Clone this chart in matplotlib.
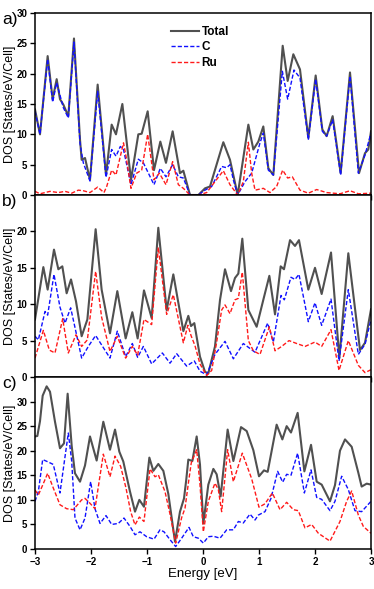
import matplotlib
matplotlib.use("Agg")
import matplotlib.pyplot as plt

plt.rcParams['font.family'] = ['Liberation Sans', 'DejaVu Sans']
plt.rcParams['axes.unicode_minus'] = True

# ---------------- Panel a ----------------
a_total_E = [-3.0, -2.911, -2.774, -2.685, -2.613, -2.554, -2.494, -2.405, -2.304, -2.196, -2.167, -2.107, -2.018,
             -1.881, -1.732, -1.631, -1.554, -1.440, -1.286, -1.155, -1.095, -0.988, -0.875, -0.762, -0.661, -0.542,
             -0.411, -0.351, -0.232, -0.083, 0.036, 0.125, 0.363, 0.482, 0.619, 0.810, 0.899, 0.988, 1.077, 1.167,
             1.256, 1.423, 1.512, 1.613, 1.732, 1.881, 2.012, 2.131, 2.208, 2.315, 2.458, 2.625, 2.786, 2.893, 2.952, 3.0]
a_total_V = [14.1, 10.0, 22.9, 15.8, 19.1, 15.8, 14.9, 13.0, 25.8, 9.1, 5.8, 6.1, 2.5,
             18.2, 3.3, 11.6, 10.0, 15.0, 2.5, 10.0, 10.1, 13.8, 4.1, 8.8, 5.3, 10.5,
             3.6, 4.0, 0.0, 0.0, 1.1, 1.4, 8.7, 5.8, 0.0, 11.6, 7.5, 8.8, 11.3, 4.4,
             3.3, 24.6, 18.8, 23.2, 20.7, 9.4, 19.7, 10.8, 9.7, 13.0, 3.6, 20.2, 3.6, 6.9, 7.5, 10.5]

a_c_E = [-3.0, -2.911, -2.774, -2.685, -2.613, -2.494, -2.405, -2.304, -2.196, -2.137, -2.018, -1.881, -1.732,
         -1.631, -1.554, -1.476, -1.42, -1.286, -1.155, -1.065, -0.875, -0.762, -0.661, -0.542, -0.44, -0.351,
         -0.232, -0.083, 0.036, 0.155, 0.333, 0.423, 0.482, 0.542, 0.619, 0.750, 0.869, 1.018, 1.077, 1.167,
         1.256, 1.417, 1.512, 1.625, 1.732, 1.881, 2.012, 2.131, 2.208, 2.315, 2.458, 2.625, 2.774, 2.893, 3.0]
a_c_V = [13.8, 10.0, 22.4, 15.3, 18.5, 14.4, 12.7, 25.2, 8.5, 5.3, 2.3, 17.1, 2.9,
         7.5, 6.4, 8.0, 7.5, 1.7, 5.9, 5.3, 1.7, 4.4, 3.0, 5.0, 3.0, 2.8,
         0.0, 0.0, 0.8, 1.4, 4.7, 4.5, 5.0, 2.5, 0.0, 2.2, 3.6, 8.6, 10.2, 4.1,
         3.3, 20.4, 15.8, 20.6, 19.3, 9.1, 19.1, 10.5, 9.7, 12.4, 3.3, 19.6, 3.6, 6.6, 10.2]

a_ru_E = [-3.0, -2.911, -2.732, -2.583, -2.464, -2.345, -2.226, -2.137, -2.018, -1.881, -1.768, -1.720, -1.631,
          -1.554, -1.42, -1.375, -1.286, -1.185, -1.095, -0.988, -0.875, -0.78, -0.661, -0.542, -0.44, -0.351,
          -0.232, -0.083, 0.065, 0.214, 0.363, 0.482, 0.619, 0.720, 0.810, 0.869, 0.929, 1.077, 1.196, 1.315,
          1.423, 1.512, 1.595, 1.732, 1.881, 2.030, 2.208, 2.446, 2.625, 2.774, 3.0]
a_ru_V = [0.6, 0.2, 0.6, 0.4, 0.6, 0.3, 0.8, 0.7, 0.4, 1.3, 0.4, 1.4, 4.1,
          3.3, 8.6, 6.4, 1.1, 3.6, 4.1, 10.0, 2.5, 3.6, 1.7, 5.5, 1.7, 1.1,
          0.0, 0.0, 0.4, 2.2, 4.0, 1.7, 0.0, 2.2, 8.7, 3.6, 0.8, 1.1, 0.4, 1.4,
          4.1, 2.8, 3.0, 0.8, 0.3, 0.9, 0.4, 0.2, 0.7, 0.2, 0.3]

# ---------------- Panel b ----------------
b_total_E = [-3.0, -2.851, -2.774, -2.661, -2.583, -2.512, -2.435, -2.357, -2.268, -2.167, -2.065, -1.917, -1.810,
             -1.661, -1.530, -1.381, -1.262, -1.167, -1.054, -0.917, -0.798, -0.649, -0.530, -0.351, -0.262, -0.214,
             -0.155, -0.054, 0.036, 0.095, 0.214, 0.304, 0.393, 0.500, 0.571, 0.631, 0.702, 0.810, 0.958, 1.077,
             1.185, 1.286, 1.387, 1.446, 1.554, 1.643, 1.714, 1.881, 2.000, 2.119, 2.286, 2.435, 2.595, 2.804, 2.893, 3.0]
b_total_V = [7.9, 15.1, 12.0, 17.5, 14.8, 15.2, 11.5, 13.4, 10.4, 5.6, 7.9, 20.3, 12.0,
             6.0, 11.8, 5.3, 8.9, 5.3, 11.9, 8.1, 20.5, 9.2, 14.1, 6.3, 8.4, 7.0,
             7.4, 2.8, 0.7, 0.5, 4.2, 10.6, 14.8, 11.8, 13.6, 14.2, 19.0, 9.2, 6.9, 10.6,
             13.9, 8.6, 15.2, 14.8, 18.8, 18.0, 18.8, 12.0, 15.0, 11.4, 17.1, 2.6, 17.0, 3.7, 4.7, 9.3]

b_c_E = [-3.0, -2.940, -2.821, -2.774, -2.661, -2.554, -2.464, -2.363, -2.286, -2.167, -2.048, -1.917, -1.810,
         -1.661, -1.530, -1.381, -1.262, -1.167, -1.065, -0.917, -0.726, -0.589, -0.470, -0.292, -0.155, -0.054,
         0.065, 0.214, 0.393, 0.542, 0.720, 0.929, 1.155, 1.256, 1.393, 1.452, 1.571, 1.643, 1.714, 1.881,
         2.000, 2.119, 2.286, 2.429, 2.595, 2.774, 2.893, 3.0]
b_c_V = [5.6, 5.1, 9.0, 8.5, 14.1, 9.6, 7.4, 9.5, 6.8, 2.6, 4.2, 5.7, 4.4,
         2.6, 6.3, 2.8, 4.6, 2.7, 4.2, 1.8, 3.3, 1.9, 3.2, 1.5, 2.2, 0.8,
         0.3, 3.1, 4.9, 2.5, 4.6, 3.4, 7.4, 4.8, 11.2, 10.6, 13.7, 13.4, 14.1, 7.6,
         10.2, 7.1, 10.7, 2.2, 12.0, 3.1, 4.5, 7.9]

b_ru_E = [-3.0, -2.851, -2.744, -2.643, -2.506, -2.405, -2.268, -2.167, -2.065, -1.917, -1.810, -1.661, -1.530,
          -1.381, -1.262, -1.167, -1.054, -0.917, -0.798, -0.649, -0.530, -0.351, -0.27, -0.214, -0.143, -0.054,
          0.065, 0.155, 0.244, 0.333, 0.393, 0.482, 0.571, 0.631, 0.702, 0.810, 0.899, 1.018, 1.185, 1.286,
          1.405, 1.536, 1.673, 1.821, 2.000, 2.119, 2.286, 2.429, 2.595, 2.774, 2.893, 3.0]
b_ru_V = [2.6, 6.4, 3.7, 3.3, 8.0, 3.3, 5.8, 4.2, 5.1, 14.5, 8.2, 3.5, 5.6,
          2.6, 4.2, 3.0, 7.9, 7.2, 17.8, 8.6, 11.3, 4.7, 7.1, 5.7, 4.3, 1.8,
          0.2, 0.9, 4.8, 9.2, 9.9, 8.7, 10.6, 10.8, 14.4, 5.0, 3.6, 3.1, 6.9, 3.6,
          4.2, 5.0, 4.6, 4.2, 4.8, 4.2, 6.5, 0.9, 5.0, 1.6, 0.6, 1.0]

# ---------------- Panel c ----------------
c_total_E = [-3.0, -2.958, -2.911, -2.863, -2.792, -2.732, -2.643, -2.554, -2.482, -2.417, -2.345, -2.286, -2.196,
             -2.107, -2.018, -1.899, -1.780, -1.661, -1.571, -1.494, -1.423, -1.304, -1.214, -1.137, -1.054, -0.958,
             -0.887, -0.798, -0.708, -0.619, -0.500, -0.411, -0.339, -0.30, -0.262, -0.190, -0.113, -0.054, 0.006,
             0.095, 0.185, 0.244, 0.315, 0.440, 0.542, 0.679, 0.780, 0.899, 1.000, 1.089, 1.155, 1.315, 1.417,
             1.494, 1.571, 1.690, 1.810, 1.929, 2.030, 2.119, 2.268, 2.357, 2.446, 2.536, 2.655, 2.774, 2.833,
             2.923, 3.0]
c_total_V = [22.9, 23.0, 26.0, 31.2, 33.1, 32.0, 25.9, 20.5, 21.5, 31.6, 21.0, 15.4, 13.7,
             17.0, 22.9, 18.0, 25.9, 20.2, 24.3, 19.8, 17.8, 11.7, 7.6, 10.0, 8.6, 18.6,
             15.9, 17.3, 15.9, 11.2, 1.5, 7.6, 10.3, 14.0, 18.2, 17.9, 22.9, 17.2, 5.2,
             13.1, 16.3, 15.2, 10.7, 24.3, 17.9, 24.8, 24.0, 20.1, 14.8, 16.0, 15.7, 25.3, 22.3,
             25.0, 23.7, 27.7, 15.8, 21.2, 13.7, 13.1, 9.7, 13.0, 20.0, 22.3, 20.8, 15.5, 12.7,
             13.3, 13.1]

c_c_E = [-3.0, -2.940, -2.863, -2.762, -2.673, -2.554, -2.405, -2.345, -2.286, -2.196, -2.107, -2.006, -1.929,
         -1.839, -1.732, -1.631, -1.512, -1.411, -1.304, -1.214, -1.125, -1.006, -0.875, -0.768, -0.696, -0.589,
         -0.488, -0.381, -0.25, -0.173, -0.083, 0.006, 0.095, 0.185, 0.304, 0.423, 0.542, 0.631, 0.720, 0.839,
         0.929, 0.988, 1.107, 1.214, 1.333, 1.423, 1.494, 1.571, 1.690, 1.810, 1.929, 2.030, 2.119, 2.268,
         2.357, 2.476, 2.595, 2.714, 2.833, 3.0]
c_c_V = [9.7, 11.7, 18.2, 17.7, 17.2, 11.4, 23.6, 17.9, 6.3, 3.9, 6.3, 13.7, 8.2,
         5.2, 6.8, 5.0, 5.2, 6.3, 4.6, 2.9, 3.5, 2.5, 2.0, 3.9, 3.5, 1.9,
         0.5, 2.2, 4.4, 2.5, 2.2, 1.2, 2.5, 2.6, 2.2, 3.9, 3.9, 5.6, 5.3, 7.1,
         5.9, 6.9, 7.6, 10.3, 15.8, 13.6, 15.2, 15.0, 19.5, 11.4, 16.1, 10.5, 10.1, 7.8,
         9.7, 14.8, 12.1, 7.8, 7.6, 9.7]

c_ru_E = [-3.0, -2.940, -2.863, -2.774, -2.673, -2.554, -2.435, -2.315, -2.167, -2.107, -2.018, -1.929, -1.780,
          -1.661, -1.571, -1.470, -1.375, -1.292, -1.214, -1.137, -1.054, -0.946, -0.857, -0.798, -0.679, -0.589,
          -0.488, -0.381, -0.321, -0.26, -0.21, -0.113, -0.054, 0.006, 0.095, 0.214, 0.274, 0.333, 0.440, 0.542,
          0.702, 0.869, 1.000, 1.107, 1.238, 1.375, 1.494, 1.613, 1.702, 1.821, 1.940, 2.060, 2.268, 2.446,
          2.565, 2.655, 2.774, 2.863, 3.0]
c_ru_V = [12.0, 11.0, 13.0, 15.4, 12.4, 9.0, 8.2, 8.0, 10.0, 10.3, 9.3, 8.2, 19.3,
          14.7, 18.9, 16.8, 12.4, 7.6, 4.9, 6.5, 5.6, 16.3, 14.7, 15.1, 11.7, 7.1,
          1.2, 6.4, 8.3, 13.5, 17.5, 20.2, 13.1, 3.5, 9.7, 13.4, 12.1, 7.6, 20.2, 13.7,
          19.5, 14.3, 8.5, 9.2, 11.4, 8.0, 9.5, 8.0, 7.8, 4.3, 5.0, 3.2, 1.6, 5.6,
          9.7, 11.8, 6.9, 4.6, 3.2]

panel_labels = ['a)', 'b)', 'c)']
y_limits = [30, 25, 35]
y_ticks = [[0, 5, 10, 15, 20, 25, 30], [0, 5, 10, 15, 20], [0, 5, 10, 15, 20, 25, 30]]
x_ticks = [-3, -2, -1, 0, 1, 2, 3]
legend_labels = ['Total', 'C', 'Ru']

W, H = 374, 589
fig = plt.figure(figsize=(W / 100, H / 100), dpi=100)

left, right = 35, 371
bounds = [(13, 195), (195, 377), (377, 549)]

col_total = '#505050'
col_c = '#1010ff'
col_ru = '#ff1a1a'

data = [
    (a_total_E, a_total_V, a_c_E, a_c_V, a_ru_E, a_ru_V),
    (b_total_E, b_total_V, b_c_E, b_c_V, b_ru_E, b_ru_V),
    (c_total_E, c_total_V, c_c_E, c_c_V, c_ru_E, c_ru_V),
]

axes = []
for i, ((top, bot), d) in enumerate(zip(bounds, data)):
    ax = fig.add_axes([left / W, 1 - bot / H, (right - left) / W, (bot - top) / H])
    tE, tV, cE, cV, rE, rV = d
    l1, = ax.plot(tE, tV, color=col_total, lw=1.5, solid_joinstyle='round', label=legend_labels[0])
    l2, = ax.plot(cE, cV, color=col_c, lw=1.0, dashes=(3, 1.5), label=legend_labels[1])
    l3, = ax.plot(rE, rV, color=col_ru, lw=1.0, dashes=(3, 1.5), label=legend_labels[2])
    ax.set_xlim(-3, 3)
    ax.set_ylim(0, y_limits[i])
    ax.set_yticks(y_ticks[i])
    ax.set_xticks(x_ticks)
    for s in ax.spines.values():
        s.set_linewidth(1.1)
    ax.tick_params(direction='out', length=3.5, width=1.0, labelsize=7, pad=2)
    for lab in ax.get_yticklabels():
        lab.set_fontweight('bold')
    if i < 2:
        ax.tick_params(axis='x', labelbottom=False)
    else:
        ax.set_xticklabels(['\u22123', '\u22122', '\u22121', '0', '1', '2', '3'], fontweight='bold')
        ax.set_xlabel('Energy [eV]', fontsize=9.5, labelpad=1)
    ax.set_ylabel('DOS [States/eV/Cell]', fontsize=9)
    ax.yaxis.set_label_coords(-0.057, 0.5)
    fig.text(2 / W, 1 - (top - 1) / H, panel_labels[i], fontsize=12.5, va='top', ha='left')
    if i == 0:
        ax.legend(handles=[l1, l2, l3], loc='upper left', bbox_to_anchor=(0.39, 0.955),
                  frameon=False, prop={'weight': 'bold', 'size': 8.5}, handlelength=2.4,
                  handletextpad=0.2, labelspacing=0.3, borderaxespad=0.0)
    axes.append(ax)

fig.savefig('out.png', dpi=100)
